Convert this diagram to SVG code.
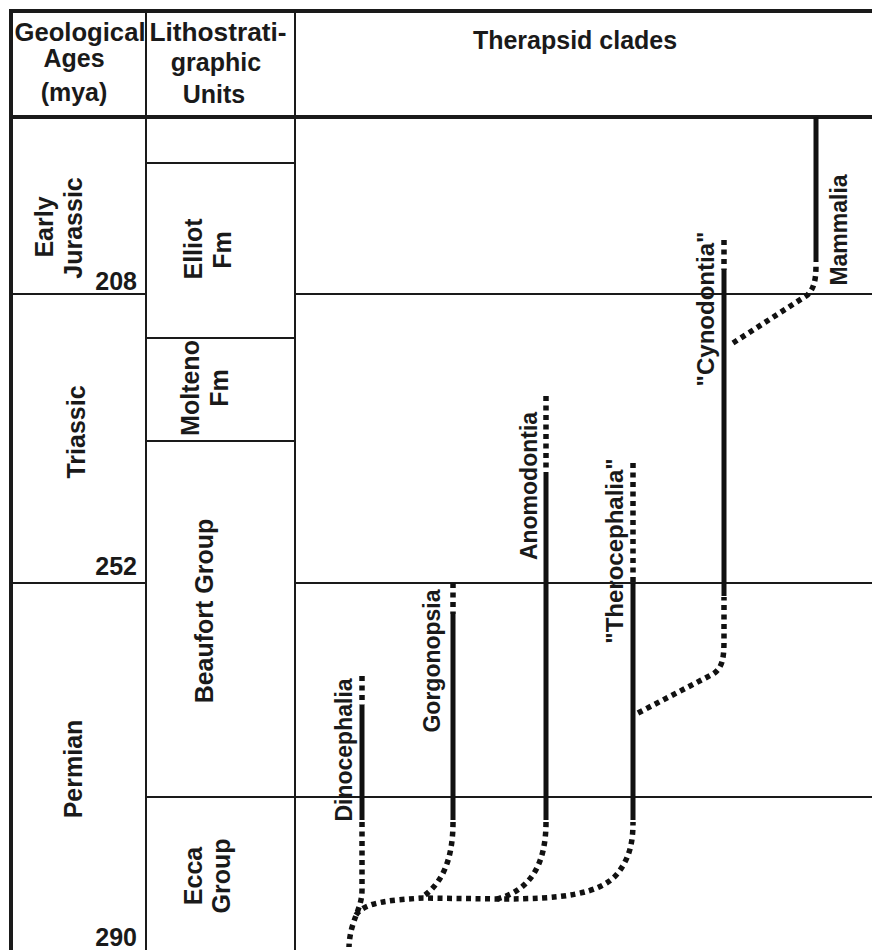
<svg xmlns="http://www.w3.org/2000/svg" width="872" height="950" viewBox="0 0 872 950">
<style>
.bg{fill:#fff}
.thin{stroke:#1a1a1a;stroke-width:2;fill:none}
.thick{stroke:#1a1a1a;stroke-width:4;fill:none}
.solid{stroke:#111;stroke-width:5;fill:none}
.dot{stroke:#111;stroke-width:5.5;fill:none;stroke-dasharray:5 4.5}
text{font-family:"Liberation Sans",Arial,sans-serif;font-weight:bold;fill:#1a1a1a}
.h{font-size:25px;text-anchor:middle}
.v{font-size:25px;text-anchor:middle}
.c{font-size:23px;text-anchor:middle}
.n{font-size:25px;text-anchor:end}
</style>
<rect class="bg" x="0" y="0" width="872" height="950"/>
<g id="grid">
<line class="thick" x1="9" y1="11" x2="872" y2="11"/>
<line class="thick" x1="11" y1="9" x2="11" y2="950"/>
<line class="thick" x1="11" y1="117" x2="872" y2="117"/>
<line class="thin" x1="146" y1="11" x2="146" y2="950"/>
<line class="thin" x1="295" y1="11" x2="295" y2="950"/>
<line class="thin" x1="11" y1="294" x2="146" y2="294"/>
<line class="thin" x1="11" y1="583" x2="146" y2="583"/>
<line class="thin" x1="146" y1="163" x2="295" y2="163"/>
<line class="thin" x1="146" y1="338" x2="295" y2="338"/>
<line class="thin" x1="146" y1="441" x2="295" y2="441"/>
<line class="thin" x1="146" y1="797" x2="295" y2="797"/>
<line class="thin" x1="295" y1="294" x2="872" y2="294"/>
<line class="thin" x1="295" y1="583" x2="872" y2="583"/>
<line class="thin" x1="295" y1="797" x2="872" y2="797"/>
</g>
<g id="header">
<text class="h" x="80" y="41" textLength="131" lengthAdjust="spacingAndGlyphs">Geological</text>
<text class="h" x="74" y="67">Ages</text>
<text class="h" x="74" y="101">(mya)</text>
<text class="h" x="218" y="41" textLength="137" lengthAdjust="spacingAndGlyphs">Lithostrati-</text>
<text class="h" x="216" y="71">graphic</text>
<text class="h" x="214" y="103">Units</text>
<text class="h" x="575" y="49">Therapsid clades</text>
</g>
<g id="ages">
<text class="v" transform="translate(53,227) rotate(-90)">Early</text>
<text class="v" transform="translate(82,228) rotate(-90)">Jurassic</text>
<text class="n" x="137" y="290">208</text>
<text class="v" transform="translate(85,432) rotate(-90)">Triassic</text>
<text class="n" x="137" y="575">252</text>
<text class="v" transform="translate(82,769) rotate(-90)">Permian</text>
<text class="n" x="137" y="946">290</text>
</g>
<g id="units">
<text class="v" transform="translate(202,249) rotate(-90)">Elliot</text>
<text class="v" transform="translate(231,250) rotate(-90)">Fm</text>
<text class="v" transform="translate(199,388) rotate(-90)">Molteno</text>
<text class="v" transform="translate(228,388) rotate(-90)">Fm</text>
<text class="v" transform="translate(213,611) rotate(-90)">Beaufort Group</text>
<text class="v" transform="translate(202,876) rotate(-90)">Ecca</text>
<text class="v" transform="translate(230,876) rotate(-90)">Group</text>
</g>
<g id="dinocephalia">
<line class="dot" x1="362" y1="676" x2="362" y2="705"/>
<line class="solid" x1="362" y1="705" x2="362" y2="820"/>
<text class="c" transform="translate(352,750) rotate(-90)">Dinocephalia</text>
</g>
<g id="gorgonopsia">
<line class="dot" x1="453" y1="583" x2="453" y2="614"/>
<line class="solid" x1="453" y1="614" x2="453" y2="820"/>
<text class="c" transform="translate(440,661) rotate(-90)">Gorgonopsia</text>
</g>
<g id="anomodontia">
<line class="dot" x1="546" y1="396" x2="546" y2="472"/>
<line class="solid" x1="546" y1="472" x2="546" y2="820"/>
<text class="c" transform="translate(537,486) rotate(-90)">Anomodontia</text>
</g>
<g id="therocephalia">
<line class="dot" x1="633" y1="463" x2="633" y2="583"/>
<line class="solid" x1="633" y1="583" x2="633" y2="820"/>
<text class="c" style="font-size:24px" transform="translate(623,551) rotate(-90)">"Therocephalia"</text>
</g>
<g id="cynodontia">
<line class="dot" x1="724" y1="240" x2="724" y2="270"/>
<line class="solid" x1="724" y1="270" x2="724" y2="596"/>
<text class="c" style="font-size:24px" transform="translate(714,309) rotate(-90)">"Cynodontia"</text>
</g>
<g id="mammalia">
<line class="solid" x1="816" y1="117" x2="816" y2="262"/>
<text class="c" transform="translate(847,230) rotate(-90)">Mammalia</text>
</g>
<g id="connectors">
<path class="dot" d="M362 822 L362 890 C362 910 350 920 349 947"/>
<path class="dot" d="M356 915 C365 901 395 900 423 898 L500 899 C560 899 600 895 618 873 C630 857 633 842 633 822"/>
<path class="dot" d="M453 822 C453 860 442 884 421 898"/>
<path class="dot" d="M546 822 C546 862 532 890 497 899"/>
<path class="dot" d="M638 713 L713 674 C722 668 724 660 724 640 L724 597"/>
<path class="dot" d="M733 343 L806 296 C814 290 816 280 816 265"/>
</g>
</svg>
